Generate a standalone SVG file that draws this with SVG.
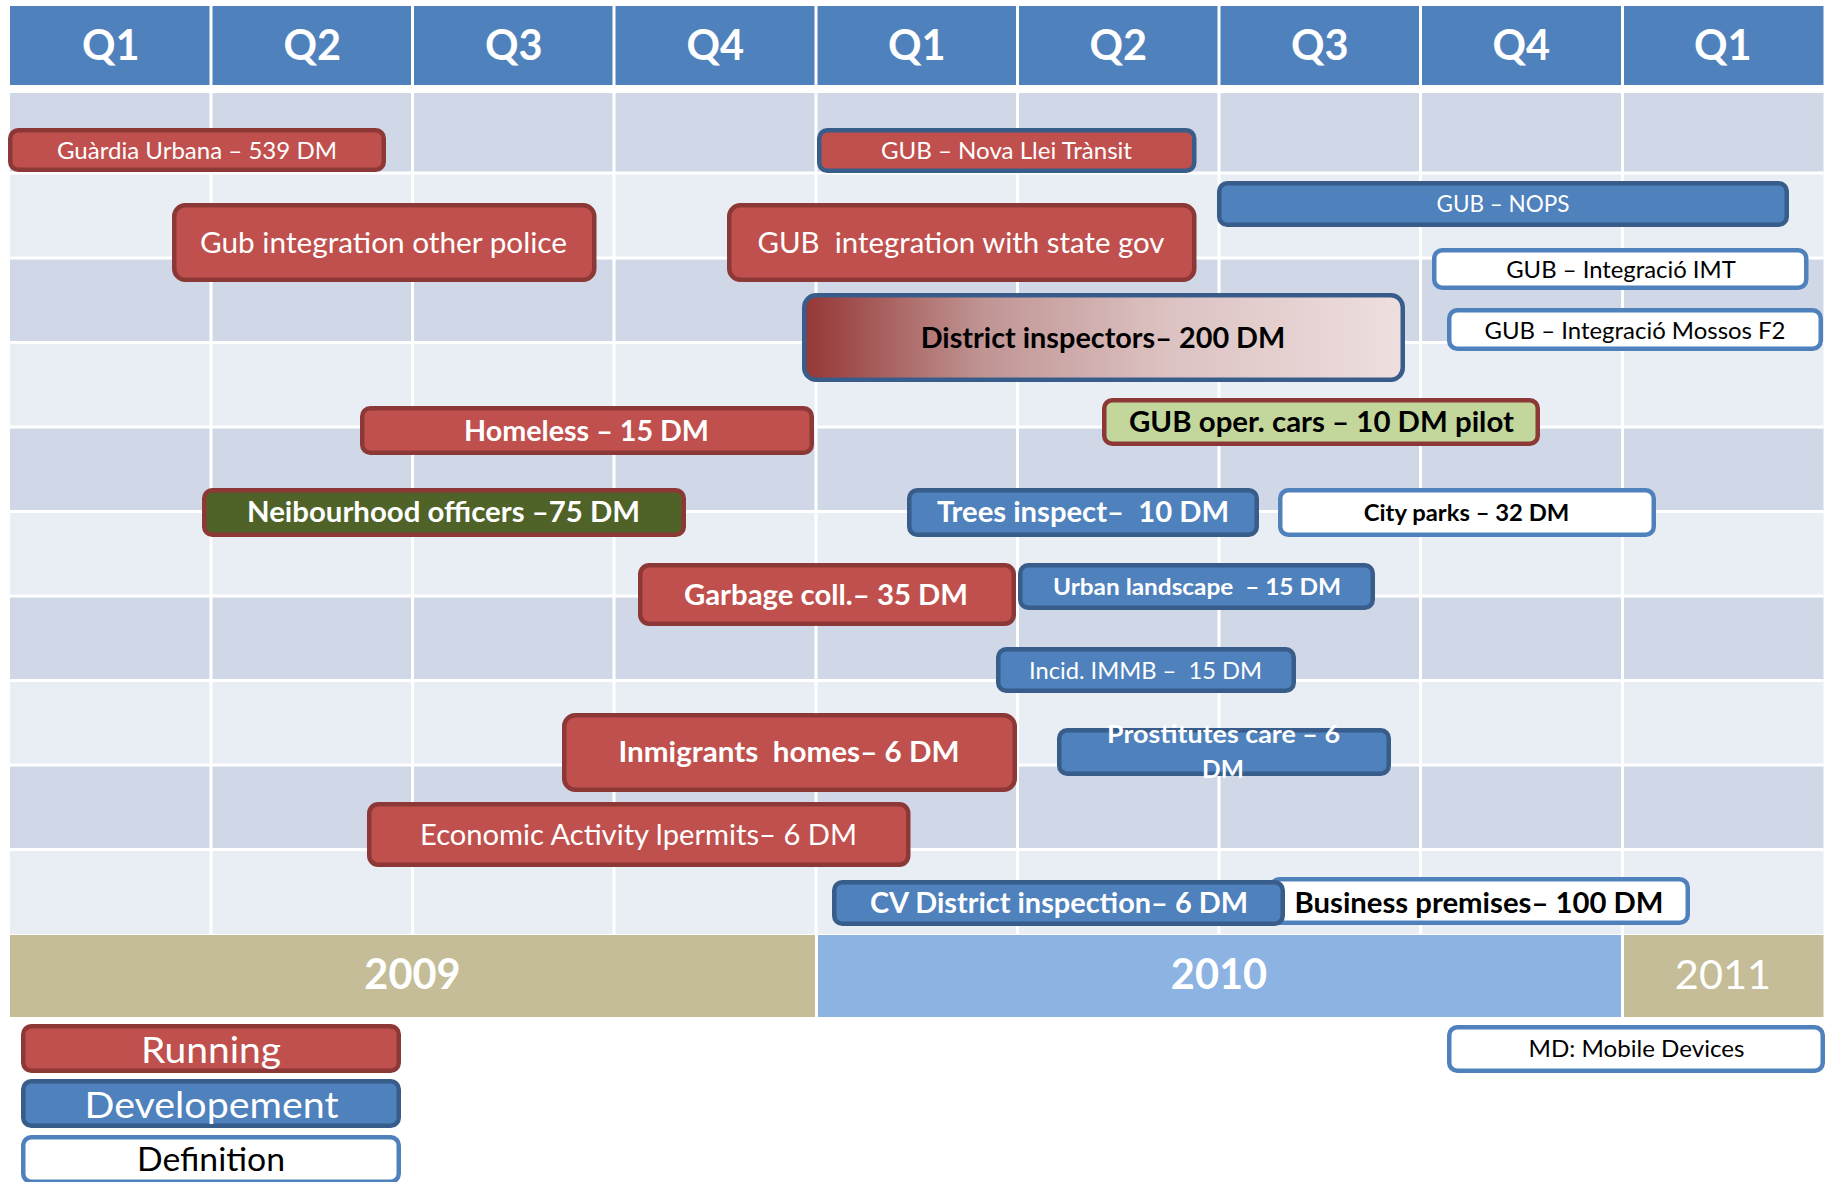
<svg xmlns="http://www.w3.org/2000/svg" width="1827" height="1182" viewBox="0 0 1827 1182">
<defs>
<linearGradient id="distGrad" x1="0" y1="0" x2="1" y2="0">
<stop offset="0" stop-color="#953735"/>
<stop offset="0.3" stop-color="#C09594"/>
<stop offset="0.6" stop-color="#DCC1C1"/>
<stop offset="1" stop-color="#EEDFDF"/>
</linearGradient>
</defs>
<style>
text{font-family:Lato,"Open Sans","Liberation Sans",sans-serif;text-anchor:middle}
.hdr{fill:#4F81BD}
.rd{fill:#D0D8E8}
.rl{fill:#E9EDF4}
.sep{stroke:#FFFFFF;stroke-width:3}
.run{fill:#C0504D;stroke:#8C3836;stroke-width:4.5}
.dev{fill:#4F81BD;stroke:#385D8A;stroke-width:4.5}
.def{fill:#FFFFFF;stroke:#4F81BD;stroke-width:4.5}
.w{fill:#FFFFFF}
.k{fill:#000000}
.b{font-weight:bold}
.q{font-size:41.5px;font-weight:bold;fill:#FFFFFF}
.yr{font-size:41.5px;fill:#FFFFFF}
</style>

<g id="grid">
<rect class="hdr" x="10" y="6" width="1813.5" height="79"/>
<rect class="rd" x="10" y="93" width="1813.5" height="80"/>
<rect class="rl" x="10" y="173" width="1813.5" height="85"/>
<rect class="rd" x="10" y="258" width="1813.5" height="84.5"/>
<rect class="rl" x="10" y="342.5" width="1813.5" height="84.5"/>
<rect class="rd" x="10" y="427" width="1813.5" height="84.5"/>
<rect class="rl" x="10" y="511.5" width="1813.5" height="84.5"/>
<rect class="rd" x="10" y="596" width="1813.5" height="84.5"/>
<rect class="rl" x="10" y="680.5" width="1813.5" height="84.5"/>
<rect class="rd" x="10" y="765" width="1813.5" height="84.5"/>
<rect class="rl" x="10" y="849.5" width="1813.5" height="84.5"/>
<g class="sep">
<line x1="10" y1="173" x2="1823.5" y2="173"/>
<line x1="10" y1="258" x2="1823.5" y2="258"/>
<line x1="10" y1="342.5" x2="1823.5" y2="342.5"/>
<line x1="10" y1="427" x2="1823.5" y2="427"/>
<line x1="10" y1="511.5" x2="1823.5" y2="511.5"/>
<line x1="10" y1="596" x2="1823.5" y2="596"/>
<line x1="10" y1="680.5" x2="1823.5" y2="680.5"/>
<line x1="10" y1="765" x2="1823.5" y2="765"/>
<line x1="10" y1="849.5" x2="1823.5" y2="849.5"/>
<line x1="211" y1="6" x2="211" y2="934"/>
<line x1="412.5" y1="6" x2="412.5" y2="934"/>
<line x1="614" y1="6" x2="614" y2="934"/>
<line x1="816" y1="6" x2="816" y2="934"/>
<line x1="1017.5" y1="6" x2="1017.5" y2="934"/>
<line x1="1219" y1="6" x2="1219" y2="934"/>
<line x1="1420.5" y1="6" x2="1420.5" y2="934"/>
<line x1="1622.5" y1="6" x2="1622.5" y2="934"/>
</g>
<text class="q" x="110.75" y="60">Q1</text>
<text class="q" x="312.25" y="60">Q2</text>
<text class="q" x="513.75" y="60">Q3</text>
<text class="q" x="715.25" y="60">Q4</text>
<text class="q" x="916.75" y="60">Q1</text>
<text class="q" x="1118.25" y="60">Q2</text>
<text class="q" x="1319.75" y="60">Q3</text>
<text class="q" x="1521.25" y="60">Q4</text>
<text class="q" x="1722.75" y="60">Q1</text>
</g>

<g id="years">
<rect x="10" y="935" width="805" height="82" fill="#C4BD97"/>
<rect x="818" y="935" width="803" height="82" fill="#8DB3E2"/>
<rect x="1624" y="935" width="199.5" height="82" fill="#C4BD97"/>
<text class="yr b" x="412.5" y="989">2009</text>
<text class="yr b" x="1219" y="989">2010</text>
<text class="yr" x="1723" y="989">2011</text>
</g>

<g id="connectors"/>

<g id="n-guardia">
<rect class="run" x="10.25" y="130.25" width="373.5" height="39.5" rx="8"/>
<text class="w" x="197" y="159" font-size="23.5" textLength="280" lengthAdjust="spacingAndGlyphs">Guàrdia Urbana – 539 DM</text>
</g>
<g id="n-nova-llei">
<rect class="run" x="819.25" y="130.25" width="375" height="40.5" rx="8" style="stroke:#385D8A"/>
<text class="w" x="1006.5" y="159" font-size="23.5" textLength="251" lengthAdjust="spacingAndGlyphs">GUB – Nova Llei Trànsit</text>
</g>
<g id="n-nops">
<rect class="dev" x="1219.25" y="183.25" width="567.5" height="41.5" rx="8"/>
<text class="w" x="1503" y="212" font-size="23.5" textLength="133" lengthAdjust="spacingAndGlyphs">GUB – NOPS</text>
</g>
<g id="n-gub-other-police">
<rect class="run" x="174.25" y="205.25" width="420" height="74.5" rx="11"/>
<text class="w" x="383.5" y="253" font-size="29" textLength="367" lengthAdjust="spacingAndGlyphs">Gub integration other police</text>
</g>
<g id="n-gub-state-gov">
<rect class="run" x="729.25" y="205.25" width="465" height="74.5" rx="11"/>
<text class="w" x="961" y="253" font-size="29" textLength="407" lengthAdjust="spacingAndGlyphs" xml:space="preserve">GUB  integration with state gov</text>
</g>
<g id="n-imt">
<rect class="def" x="1434.25" y="250.25" width="372" height="37.5" rx="8"/>
<text class="k" x="1621" y="278" font-size="23.5" textLength="229.6" lengthAdjust="spacingAndGlyphs">GUB – Integració IMT</text>
</g>
<g id="n-mossos">
<rect class="def" x="1449.25" y="310.25" width="371.5" height="38.5" rx="8"/>
<text class="k" x="1635" y="339" font-size="23.5" textLength="301" lengthAdjust="spacingAndGlyphs">GUB – Integració Mossos F2</text>
</g>
<g id="n-district-inspectors">
<rect x="804.25" y="295.25" width="598.5" height="84.5" rx="12" fill="url(#distGrad)" stroke="#385D8A" stroke-width="4.5"/>
<text class="k b" x="1103" y="348" font-size="28" textLength="364.6" lengthAdjust="spacingAndGlyphs">District inspectors– 200 DM</text>
</g>
<g id="n-homeless">
<rect class="run" x="362.25" y="408.25" width="449.5" height="44.5" rx="8"/>
<text class="w b" x="586.5" y="441" font-size="28.5" textLength="245" lengthAdjust="spacingAndGlyphs">Homeless – 15 DM</text>
</g>
<g id="n-gub-oper-cars">
<rect x="1104.25" y="400.25" width="433.5" height="43.5" rx="8" fill="#C3D69B" stroke="#8C3836" stroke-width="4.5"/>
<text class="k b" x="1321.5" y="432" font-size="28.5" textLength="385" lengthAdjust="spacingAndGlyphs">GUB oper. cars – 10 DM pilot</text>
</g>
<g id="n-neibourhood">
<rect x="204.25" y="490.25" width="479.5" height="44.5" rx="8" fill="#4F6228" stroke="#8C3836" stroke-width="4.5"/>
<text class="w b" x="443.5" y="522" font-size="28.5" textLength="393" lengthAdjust="spacingAndGlyphs">Neibourhood officers –75 DM</text>
</g>
<g id="n-trees">
<rect class="dev" x="909.25" y="490.25" width="347.5" height="44.5" rx="8"/>
<text class="w b" x="1083" y="522" font-size="28.5" textLength="292" lengthAdjust="spacingAndGlyphs" xml:space="preserve">Trees inspect–  10 DM</text>
</g>
<g id="n-city-parks">
<rect class="def" x="1280.25" y="490.25" width="373.5" height="44.5" rx="8"/>
<text class="k b" x="1466.5" y="521" font-size="23.5" textLength="205.5" lengthAdjust="spacingAndGlyphs">City parks – 32 DM</text>
</g>
<g id="n-garbage">
<rect class="run" x="640.25" y="565.25" width="373.5" height="58.5" rx="9"/>
<text class="w b" x="826" y="605" font-size="28.5" textLength="284" lengthAdjust="spacingAndGlyphs">Garbage coll.– 35 DM</text>
</g>
<g id="n-urban-landscape">
<rect class="dev" x="1020.25" y="565.25" width="352.5" height="42.5" rx="8"/>
<text class="w b" x="1197" y="595" font-size="23.5" textLength="288" lengthAdjust="spacingAndGlyphs" xml:space="preserve">Urban landscape  – 15 DM</text>
</g>
<g id="n-incid-immb">
<rect class="dev" x="998.25" y="649.25" width="295.5" height="41.5" rx="8"/>
<text class="w" x="1145.5" y="679" font-size="24" textLength="233" lengthAdjust="spacingAndGlyphs" xml:space="preserve">Incid. IMMB –  15 DM</text>
</g>
<g id="n-inmigrants">
<rect class="run" x="564.25" y="715.25" width="450.5" height="74.5" rx="11"/>
<text class="w b" x="789" y="762" font-size="28" textLength="341" lengthAdjust="spacingAndGlyphs" xml:space="preserve">Inmigrants  homes– 6 DM</text>
</g>
<g id="n-prostitutes">
<rect class="dev" x="1059.25" y="730.25" width="329.5" height="43.5" rx="8"/>
<text class="w b" x="1223.5" y="743" font-size="24.5" textLength="233" lengthAdjust="spacingAndGlyphs">Prostitutes care – 6</text>
<text class="w b" x="1223" y="778" font-size="24.5">DM</text>
</g>
<g id="n-economic">
<rect class="run" x="369.25" y="804.25" width="539" height="60.5" rx="9"/>
<text class="w" x="638.5" y="845" font-size="28" textLength="437" lengthAdjust="spacingAndGlyphs">Economic Activity lpermits– 6 DM</text>
</g>
<g id="n-business-premises">
<rect class="def" x="1271.25" y="879.25" width="416.5" height="43.5" rx="8"/>
<text class="k b" x="1479" y="913" font-size="28.5" textLength="369" lengthAdjust="spacingAndGlyphs">Business premises– 100 DM</text>
</g>
<g id="n-cv-district">
<rect class="dev" x="834.25" y="882.25" width="448.5" height="41.5" rx="8"/>
<text class="w b" x="1059" y="913" font-size="28.5" textLength="378" lengthAdjust="spacingAndGlyphs">CV District inspection– 6 DM</text>
</g>

<g id="legend-running">
<rect class="run" x="23.25" y="1026.25" width="375.5" height="44.5" rx="8"/>
<text class="w" x="211" y="1063" font-size="37.5" textLength="140" lengthAdjust="spacingAndGlyphs">Running</text>
</g>
<g id="legend-development">
<rect class="dev" x="23.25" y="1081.25" width="375.5" height="44.5" rx="8"/>
<text class="w" x="211.5" y="1118" font-size="37.5" textLength="254" lengthAdjust="spacingAndGlyphs">Developement</text>
</g>
<g id="legend-definition">
<rect class="def" x="23.25" y="1137.25" width="375.5" height="44.5" rx="8"/>
<text class="k" x="211" y="1171" font-size="33" textLength="148" lengthAdjust="spacingAndGlyphs">Definition</text>
</g>
<g id="legend-md">
<rect class="def" x="1449.25" y="1027.25" width="373.5" height="43.5" rx="8"/>
<text class="k" x="1636.5" y="1057" font-size="23.5" textLength="216" lengthAdjust="spacingAndGlyphs">MD: Mobile Devices</text>
</g>
</svg>
